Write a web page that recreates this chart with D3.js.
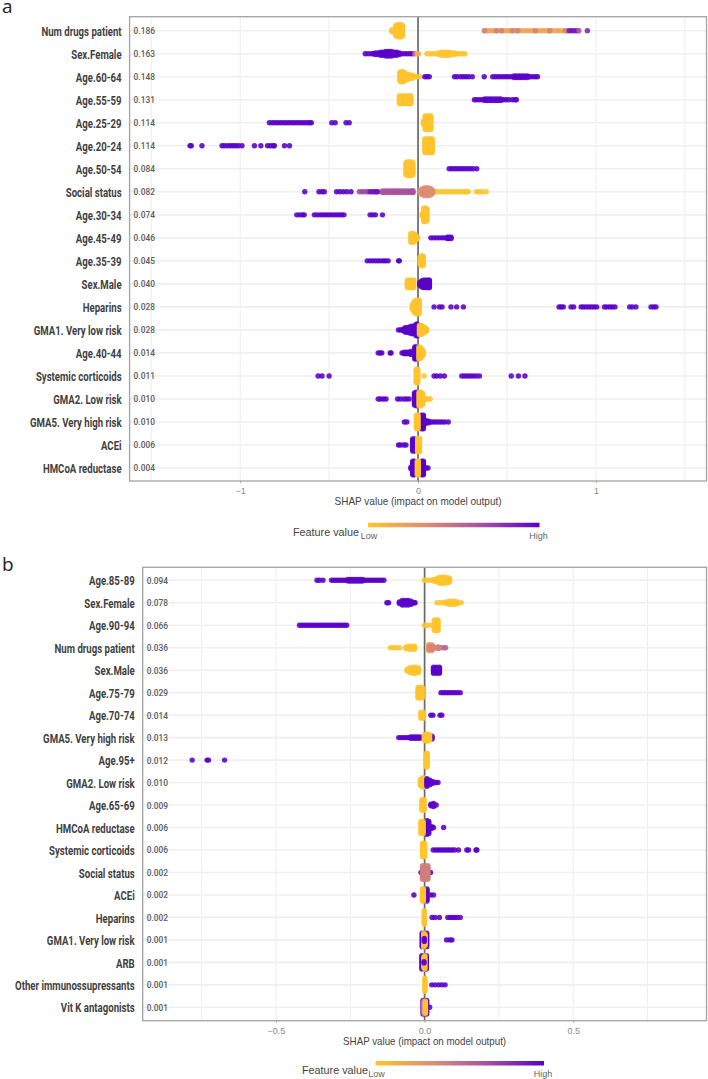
<!DOCTYPE html>
<html>
<head>
<meta charset="utf-8">
<script src="https://cdn.jsdelivr.net/npm/d3@7"></script>
<style>
  html, body { margin: 0; padding: 0; background: #fff; }
  svg { display: block; }
  .feature { font: 700 13px Roboto, sans-serif; fill: #3f3f3f; }
  .mean { font: 500 9.6px Roboto, sans-serif; fill: #5c5c5c; }
  .tick-label { font: 9px "Liberation Sans", sans-serif; fill: #8a8a8a; }
  .axis-title { font: 11px "Liberation Sans", sans-serif; fill: #444; }
  .legend-title { font: 10.8px "Liberation Sans", sans-serif; fill: #444; }
  .legend-end { font: 9px "Liberation Sans", sans-serif; fill: #666; }
  .letter { font: 19px "Open Sans", sans-serif; fill: #222; }
</style>
</head>
<body>
<svg id="chart" width="708" height="1079"></svg>
<script>
// Feature value colour ramp, low to high
const rampColors = ["#FFC42E", "#DE8E72", "#A650A2", "#5A00C8"];
const LOW = 0, HIGH = 1;

// Cohort a: feature names and mean absolute SHAP
const featuresA = ["Num drugs patient", "Sex.Female", "Age.60-64", "Age.55-59", "Age.25-29", "Age.20-24", "Age.50-54", "Social status", "Age.30-34", "Age.45-49", "Age.35-39", "Sex.Male", "Heparins", "GMA1. Very low risk", "Age.40-44", "Systemic corticoids", "GMA2. Low risk", "GMA5. Very high risk", "ACEi", "HMCoA reductase"];
const meansA = ["0.186", "0.163", "0.148", "0.131", "0.114", "0.114", "0.084", "0.082", "0.074", "0.046", "0.045", "0.040", "0.028", "0.028", "0.014", "0.011", "0.010", "0.010", "0.006", "0.004"];
const ticksA = [-1, 0, 1];
const gridA = [-1.5, -1, -0.5, 0, 0.5, 1, 1.5];

// Each row holds groups of [feature value, points]. A point is a SHAP value,
// or [SHAP value, observations piled up at that value].
const swarmA = [
  [[LOW, [[-.148,2],[-.135,3],[-.125,8],[-.114,9],[-.103,9],[-.095,9],[-.087,8]]],
   [.2, [.372,.388,.405,.42,.437,.45,.468,.484,.5,.515,.533,.55,.565,.58,.6,.617,.635,.65,.665,.683,.7,.718,.735,.75,.768,.785,.8,.82,.838]],
   [.4, [.375,.44,.47,.53,.56,.66,.74,.83]],
   [.92, [.85,.865,.88,.895]], [.6, [.905]], [.85, [.952]]],
  [[HIGH, [-.297,-.28,-.262,-.25,[-.24,2],[-.225,2],[-.21,3],[-.195,3],[-.18,4],[-.165,4],[-.15,4],[-.135,3],[-.12,3],[-.105,2],-.09,-.075,-.06,-.045,-.03]],
   [.5, [-.018]], [.15, [-.005,.002]],
   [LOW, [.05,.066,.082,.1,[.115,2],[.13,3],[.145,3],[.16,3],[.175,3],[.19,2],[.205,2],.22,.235,.25,.263]]],
  [[LOW, [[-.102,7],[-.09,8],[-.078,7],[-.066,5],[-.054,4],[-.042,3],[-.03,3],-.018,-.005,.008]],
   [HIGH, [.038,.05,.063,.205,.22,.24,.255,.27,.285,.305,.372,.42,.435,.45,.465,.48,.495,.51,.525,[.54,2],[.555,2],[.57,2],[.585,2],[.6,2],[.615,2],.63,.645,.66,.672]]],
  [[LOW, [[-.105,6],[-.093,6],[-.081,6],[-.069,6],[-.057,6],[-.045,6],[-.04,6]]],
   [HIGH, [.317,.33,.345,.36,[.375,2],[.39,2],[.405,2],[.42,2],[.435,2],[.45,2],[.465,2],.48,.495,.51,.53,.545,.553]]],
  [[LOW, [[.03,3],[.04,10],[.052,10],[.064,10],[.072,10]]],
   [HIGH, [-.836,-.82,-.805,-.79,-.775,-.76,-.745,-.73,-.715,-.7,-.685,-.67,-.655,-.64,-.625,-.61,-.6,-.485,-.466,-.405,-.387]]],
  [[LOW, [[.038,10],[.05,10],[.062,10],[.074,10],[.08,10]]],
   [HIGH, [-1.282,-1.275,-1.215,-1.102,-1.088,-1.07,-1.055,-1.04,-1.025,-1.01,-.99,-.92,-.884,-.846,-.83,-.815,-.808,-.751,-.723]]],
  [[LOW, [[-.068,9],[-.058,10],[-.048,10],[-.038,10],[-.029,9]]],
   [HIGH, [.175,.19,.205,.22,.235,.25,.265,.28,.295,.31,.33]]],
  [[HIGH, [-.637,-.557,-.54,-.527,-.458,-.44,-.42,-.4,-.377]],
   [.7, [-.33,-.315,-.3,-.285,-.262,-.24]],
   [.92, [-.27,-.25,-.235,-.225]],
   [.66, [[-.2,2],[-.186,2],[-.172,2],[-.158,2],[-.144,2],[-.13,2],[-.116,2],[-.102,2],[-.088,2],[-.074,2],[-.06,2],[-.046,2],[-.032,2],[-.028,2]]],
   [LOW, [.095,.11,.125,.14,.155,.17,.185,.2,.215,.23,.245,.26,.272,.282,.329,.345,.36,.383]],
   [.34, [[.012,3],[.024,5],[.036,6],[.048,6],[.06,6],[.072,5],[.082,3]]]],
  [[LOW, [[.024,3],[.032,10],[.042,10],[.05,9]]],
   [HIGH, [-.682,-.665,-.65,-.64,-.583,-.567,-.55,-.535,-.52,-.505,-.49,-.475,-.46,-.445,-.43,-.417,-.27,-.255,-.24,-.2]]],
  [[LOW, [[-.04,7],[-.03,7],[-.02,6],[-.012,4],[-.002,2]]],
   [HIGH, [.072,.088,.104,.12,.135,.15,[.165,2],[.175,2],[.186,2]]]],
  [[HIGH, [-.286,-.27,-.255,-.24,-.225,-.21,-.195,-.182,-.168,-.11,-.105]],
   [LOW, [[.012,6],[.022,8],[.03,7]]]],
  [[LOW, [[-.06,6],[-.05,6],[-.04,6],[-.03,6],[-.024,6]]],
   [HIGH, [[.01,3],[.02,5],[.03,6],[.04,6],[.05,6],[.06,6],[.064,6]]]],
  [[LOW, [[-.032,4],[-.022,8],[-.012,10],[-.002,10],[.006,10]]],
   [HIGH, [.09,.12,.135,.185,.217,.255,.793,.805,.817,.86,.875,.917,.93,.945,.96,.975,.99,1.005,1.048,1.062,1.078,1.092,1.107,1.19,1.205,1.225,1.31,1.325,1.338]]],
  [[HIGH, [-.11,-.098,[-.085,2],[-.072,4],[-.06,4],[-.048,5],[-.036,6],[-.024,6],[-.012,8],[-.006,9]]],
   [LOW, [[.008,7],[.02,7],[.03,5],[.04,4],[.048,2]]]],
  [[HIGH, [-.224,-.212,-.204,-.156,-.152,-.09,[-.078,2],[-.065,2],[-.052,2],[-.04,3],[-.018,9],[-.01,9]]],
   [LOW, [[.005,9],[.015,8],[.025,5],[.03,3]]]],
  [[HIGH, [-.562,-.54,-.5,.09,.105,.125,.148,.246,.262,.278,.294,.31,.326,.345,.524,.564,.601]],
   [LOW, [[-.01,10],[-.002,10],.034]]],
  [[HIGH, [-.224,-.21,-.195,-.18,-.115,-.1,-.08,-.065,-.05,[-.02,9],[-.01,10]]],
   [LOW, [[.006,10],[.016,10],[.026,8],[.04,2],.055,.068]]],
  [[HIGH, [-.077,-.063,[.02,10],[.03,10],[.04,3],[.05,2],[.06,2],.075,.09,.105,.12,.135,.15,.17]],
   [LOW, [[-.009,10],[.0,10]]]],
  [[HIGH, [-.11,-.098,-.08,-.068,[-.03,9],[-.02,9]]],
   [LOW, [[-.002,10],[.008,10]]]],
  [[HIGH, [[-.04,2],[-.03,10],[-.02,10],[.022,10],[.03,10],.045,.056]],
   [LOW, [[-.004,10],[.002,10]]]]
];

// Cohort b: feature names and mean absolute SHAP
const featuresB = ["Age.85-89", "Sex.Female", "Age.90-94", "Num drugs patient", "Sex.Male", "Age.75-79", "Age.70-74", "GMA5. Very high risk", "Age.95+", "GMA2. Low risk", "Age.65-69", "HMCoA reductase", "Systemic corticoids", "Social status", "ACEi", "Heparins", "GMA1. Very low risk", "ARB", "Other immunossupressants", "Vit K antagonists"];
const meansB = ["0.094", "0.078", "0.066", "0.036", "0.036", "0.029", "0.014", "0.013", "0.012", "0.010", "0.009", "0.006", "0.006", "0.002", "0.002", "0.002", "0.001", "0.001", "0.001", "0.001"];
const ticksB = [-0.5, 0, 0.5];
const gridB = [-0.75, -0.5, -0.25, 0, 0.25, 0.5, 0.75];

const swarmB = [
  [[HIGH, [-.362,-.354,-.342,-.313,-.305,-.297,-.289,-.281,-.273,-.265,[-.257,2],[-.249,2],[-.241,2],[-.233,2],[-.225,2],[-.217,2],[-.209,2],-.201,-.193,-.185,-.177,-.169,-.161,-.153,-.145,-.137]],
   [LOW, [-.001,.01,.02,[.03,2],[.04,3],[.05,5],[.06,5],[.07,5],[.08,4],[.084,3]]]],
  [[HIGH, [-.127,-.121,[-.085,2],[-.075,4],[-.065,4],[-.055,4],[-.045,3],-.035,-.032]],
   [LOW, [.042,.052,.062,[.072,2],[.082,3],[.092,3],[.102,3],[.11,2],.123]]],
  [[HIGH, [-.421,-.413,-.405,-.397,-.389,-.381,-.373,-.365,-.357,-.349,-.341,-.333,-.325,-.317,-.309,-.301,-.293,-.285,-.277,-.269,-.262]],
   [LOW, [0,.01,.022,[.033,8],[.04,8],[.045,8]]]],
  [[LOW, [-.115,-.105,-.095,-.084,[-.063,2],[-.053,3],[-.043,3],[-.034,3]]],
   [.55, [[.045,2],.055,.065,.071]],
   [.22, [[.014,5],[.024,5]]],
   [.38, [[.018,3],[.028,3],.038,.048]]],
  [[LOW, [[-.059,2],[-.05,4],[-.04,5],[-.03,5],[-.02,4]]],
   [HIGH, [[.03,5],[.04,5],[.05,5]]]],
  [[LOW, [[-.022,8],[-.015,8],[-.008,8]]],
   [HIGH, [.055,.063,.071,.079,.087,.095,.103,.111,.12]]],
  [[LOW, [[-.012,5],[-.004,5]]],
   [HIGH, [.021,.028,.052,.058]]],
  [[HIGH, [-.087,-.079,-.071,-.063,-.055,[-.047,2],[-.039,2],[-.031,2],[-.023,2],[-.015,2],-.005,[.025,3]]],
   [LOW, [[-.001,5],[.008,6],[.017,5]]]],
  [[HIGH, [-.782,-.732,-.727,-.673]],
   [LOW, [[.005,10],[.009,10]]]],
  [[LOW, [[-.014,5],[-.006,7],[-.002,7]]],
   [HIGH, [[.008,6],[.018,4],[.028,2],.038,.045]]],
  [[LOW, [[-.009,8],[-.002,8]]],
   [HIGH, [[.021,2],[.03,3],.039]]],
  [[HIGH, [[.008,10],[.014,9],[.024,2],.03,.064]],
   [LOW, [[-.012,9],[-.005,9]]]],
  [[LOW, [[-.007,10],[0,10]]],
   [HIGH, [.029,.037,.045,.053,.061,.069,.077,.085,.093,.101,.114,.142,.148,.173,.176]]],
  [[HIGH, [-.012,.02]],
   [.42, [[-.007,10],[.002,10],[.011,10]]]],
  [[HIGH, [-.036,[.008,9],.02,.03]],
   [LOW, [[-.007,9],[-.004,9]]]],
  [[LOW, [[-.001,10]]],
   [HIGH, [.025,.035,.05,.078,.086,.094,.102,.11,.12]]],
  [[HIGH, [[-.008,10],[.007,10],.074,.085,.092]],
   [LOW, [[-.003,10],[.002,8]]],
   [HIGH, [[-.001,3]]]],
  [[HIGH, [[-.009,10],[.006,10]]],
   [LOW, [[-.003,8],[.001,10]]],
   [HIGH, [[-.002,2]]]],
  [[LOW, [[.001,10]]],
   [HIGH, [.024,.035,.047,.058,.069]]],
  [[HIGH, [[-.005,10],[.007,10],.017]],
   [.3, [[-.002,9]]],
   [LOW, [[.003,9]]]]
];

const svg = d3.select("#chart");
const ramp = d3.scaleLinear()
  .domain(rampColors.map((_, i) => i / (rampColors.length - 1)))
  .range(rampColors)
  .interpolate(d3.interpolateRgb);

// Shared colour bar gradient
const gradient = svg.append("defs").append("linearGradient").attr("id", "featureRamp");
rampColors.forEach((c, i) => gradient.append("stop")
  .attr("offset", i / (rampColors.length - 1)).attr("stop-color", c));

function drawPanel(cfg) {
  const x = d3.scaleLinear().domain(cfg.xDomain).range([cfg.left, cfg.right]);
  const y = d3.scalePoint().domain(cfg.features).range([cfg.firstRow, cfg.lastRow]);
  const g = svg.append("g");

  g.append("text").attr("class", "letter").attr("x", 2).attr("y", cfg.letterY).text(cfg.letter);

  // Grid
  g.append("g").selectAll("line").data(cfg.grid).join("line")
    .attr("x1", d => x(d)).attr("x2", d => x(d))
    .attr("y1", cfg.top).attr("y2", cfg.bottom)
    .attr("stroke", "#ededed").attr("stroke-width", 1);
  g.append("g").selectAll("line").data(cfg.features).join("line")
    .attr("x1", cfg.left).attr("x2", cfg.right)
    .attr("y1", d => y(d)).attr("y2", d => y(d))
    .attr("stroke", "#efefef").attr("stroke-width", 1.6);

  // Zero reference line, below the dots
  g.append("line")
    .attr("x1", x(0)).attr("x2", x(0)).attr("y1", cfg.top).attr("y2", cfg.bottom)
    .attr("stroke", "#6a6a6a").attr("stroke-width", 1.7);

  // Dots: piled observations spread symmetrically around the row
  const rows = g.append("g");
  cfg.swarm.forEach((groups, r) => {
    const cy = y(cfg.features[r]);
    groups.forEach(([feature, points]) => {
      const dots = points.flatMap(p => {
        const [shap, count] = Array.isArray(p) ? p : [p, 1];
        return d3.range(count).map(i => ({ shap, dy: (i - (count - 1) / 2) * cfg.pile }));
      });
      rows.append("g").selectAll("circle").data(dots).join("circle")
        .attr("cx", d => x(d.shap))
        .attr("cy", d => cy + d.dy)
        .attr("r", cfg.radius)
        .attr("fill", ramp(feature))
        .attr("fill-opacity", .88);
    });
  });

  // Panel frame
  g.append("rect")
    .attr("x", cfg.left).attr("y", cfg.top)
    .attr("width", cfg.right - cfg.left).attr("height", cfg.bottom - cfg.top)
    .attr("fill", "none").attr("stroke", "#a3a3a3").attr("stroke-width", 1.3);

  // Feature names, condensed horizontally around their right edge
  const yAxis = g.append("g").attr("transform", `translate(${cfg.left - 8},0)`)
    .call(d3.axisLeft(y).tickSize(0).tickPadding(0));
  yAxis.select(".domain").remove();
  yAxis.selectAll("text")
    .attr("class", "feature").attr("dy", "0.36em").attr("transform", "scale(0.74,1)");

  // Mean absolute SHAP beside each name
  g.append("g").selectAll("text").data(cfg.features).join("text")
    .attr("class", "mean")
    .attr("transform", d => `translate(${cfg.left + 4},${y(d)}) scale(0.87,1)`)
    .attr("dy", "0.36em")
    .text((d, i) => cfg.means[i]);

  // SHAP axis
  const xAxis = g.append("g").attr("transform", `translate(0,${cfg.bottom})`)
    .call(d3.axisBottom(x).tickValues(cfg.ticks).tickFormat(cfg.tickFormat).tickSize(2).tickPadding(5));
  xAxis.select(".domain").remove();
  xAxis.selectAll("line").attr("stroke", "#a3a3a3");
  xAxis.selectAll("text").attr("class", "tick-label");

  g.append("text").attr("class", "axis-title")
    .attr("x", x(0)).attr("y", cfg.bottom + 24).attr("text-anchor", "middle")
    .attr("textLength", cfg.titleWidth).attr("lengthAdjust", "spacingAndGlyphs")
    .text("SHAP value (impact on model output)");

  // Colour legend
  g.append("rect")
    .attr("x", cfg.barLeft).attr("y", cfg.barY)
    .attr("width", cfg.barRight - cfg.barLeft).attr("height", 4.5)
    .attr("fill", "url(#featureRamp)");
  g.append("text").attr("class", "legend-title")
    .attr("x", cfg.legendTitleX).attr("y", cfg.barY + 13).attr("text-anchor", "middle")
    .text("Feature value");
  g.append("text").attr("class", "legend-end")
    .attr("x", cfg.barLeft + 1).attr("y", cfg.barY + 16).attr("text-anchor", "middle").text("Low");
  g.append("text").attr("class", "legend-end")
    .attr("x", cfg.barRight - 1).attr("y", cfg.barY + 16).attr("text-anchor", "middle").text("High");
}

drawPanel({
  letter: "a", letterY: 13,
  features: featuresA, means: meansA, swarm: swarmA, ticks: ticksA, grid: gridA,
  tickFormat: d3.format("d"),
  xDomain: [-1.622, 1.622], left: 129.6, right: 706.5, top: 16.7, bottom: 481,
  firstRow: 30.7, lastRow: 468, radius: 2.7, pile: 1.5, titleWidth: 167,
  barLeft: 368, barRight: 539.5, barY: 522.75, legendTitleX: 326
});

drawPanel({
  letter: "b", letterY: 570.5,
  features: featuresB, means: meansB, swarm: swarmB, ticks: ticksB, grid: gridB,
  tickFormat: d3.format(".1f"),
  xDomain: [-0.9485, 0.9485], left: 142.7, right: 706.5, top: 567.3, bottom: 1020.7,
  firstRow: 580.3, lastRow: 1007.3, radius: 2.7, pile: 1.5, titleWidth: 163,
  barLeft: 375.6, barRight: 544, barY: 1061, legendTitleX: 335
});
</script>
</body>
</html>
